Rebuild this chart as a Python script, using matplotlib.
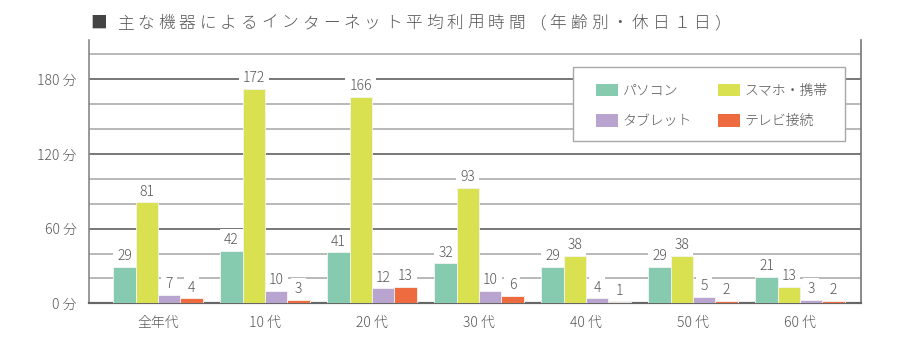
import numpy as np
import matplotlib
matplotlib.use('Agg')
import matplotlib.pyplot as plt
from matplotlib.patches import Rectangle

plt.rcParams['font.family'] = ['Noto Sans CJK JP', 'DejaVu Sans']
plt.rcParams['font.weight'] = 'light'

# average internet time on a holiday (minutes), by age group
groups = ['全年代', '10 代', '20 代', '30 代', '40 代', '50 代', '60 代']
series = ['パソコン', 'スマホ・携帯', 'タブレット', 'テレビ接続']
pc = [29, 42, 41, 32, 29, 29, 21]
phone = [81, 172, 166, 93, 38, 38, 13]
tablet = [7, 10, 12, 10, 4, 5, 3]
tv = [4, 3, 13, 6, 1, 2, 2]
colors = ['#86cab0', '#d9e150', '#b9a3cf', '#ee6b3f']

yticks = [0, 60, 120, 180]
ytick_labels = ['0 分', '60 分', '120 分', '180 分']
minor_ticks = [20, 40, 80, 100, 140, 160, 200]

title = '主な機器によるインターネット平均利用時間（年齢別・休日１日）'

W, H = 900, 346
fig = plt.figure(figsize=(W / 100, H / 100), dpi=100)
ax = fig.add_axes([89.3 / W, 1 - 303.3 / H, (861 - 89.3) / W, (303.3 - 40) / H])

x = np.arange(len(groups))
w = 0.208
text_col = '#555555'
handles = []
for i, (vals, c) in enumerate(zip([pc, phone, tablet, tv], colors)):
    pos = x + (i - 1.5) * w
    b = ax.bar(pos, vals, w, color=c, edgecolor='#f4f4f4', linewidth=0.6,
               label=series[i], zorder=3)
    handles.append(b)
    for xp, v in zip(pos, vals):
        # white box behind the number breaks the grid line
        ax.text(xp, v + 3.0, str(v), ha='center', va='bottom', fontsize=10,
                color=text_col, zorder=2.5,
                bbox=dict(boxstyle='square,pad=0.3', fc='white', ec='none'))

ax.set_xlim(-0.642, 6.57)
ax.set_ylim(0, 211.5)
ax.set_xticks(x)
ax.set_xticklabels(groups, fontsize=10, color=text_col)
ax.set_yticks(yticks)
ax.set_yticklabels(ytick_labels, fontsize=10, color=text_col)
ax.set_yticks(minor_ticks, minor=True)
ax.tick_params(axis='both', which='both', length=0)
ax.tick_params(axis='x', pad=9)
ax.tick_params(axis='y', pad=9)

ax.set_axisbelow(True)
ax.grid(axis='y', which='major', color='#777777', linewidth=1.4)
ax.grid(axis='y', which='minor', color='#b3b3b3', linewidth=1.3)

ax.spines['top'].set_visible(False)
ax.spines['left'].set_color('#888888')
ax.spines['left'].set_linewidth(1.2)
ax.spines['right'].set_color('#777777')
ax.spines['right'].set_linewidth(1.2)
ax.spines['bottom'].set_color('#666666')
ax.spines['bottom'].set_linewidth(1.6)

# legend box drawn separately so the padding can differ per side
box = Rectangle((572.7 / W, 1 - 141 / H), (845 - 572.7) / W, (141 - 67.3) / H,
                transform=fig.transFigure, fc='white', ec='#a8a8a8', lw=1.0,
                zorder=4)
fig.add_artist(box)

# legend fills column-wise, so order handles to read row by row
order = [0, 2, 1, 3]
leg = fig.legend([handles[k] for k in order], [series[k] for k in order],
                 ncol=2, loc='upper left', bbox_to_anchor=(596 / W, 1 - 83.5 / H),
                 fontsize=10, frameon=False, handlelength=1.6, handleheight=1.05,
                 handletextpad=0.3, columnspacing=1.9, labelspacing=1.15,
                 borderpad=0, borderaxespad=0)
leg.set_zorder(5)
for t in leg.get_texts():
    t.set_color(text_col)
for p in leg.get_patches():
    p.set_edgecolor('none')

# title with wide letter spacing
fig.text(90 / W, 1 - 23.5 / H, '■', fontsize=12, color='#444444', va='center')
for k, ch in enumerate(title):
    fig.text((117 + k * 20.6) / W, 1 - 23.5 / H, ch, fontsize=12,
             color=text_col, va='center')

fig.savefig('out.png', dpi=100)
